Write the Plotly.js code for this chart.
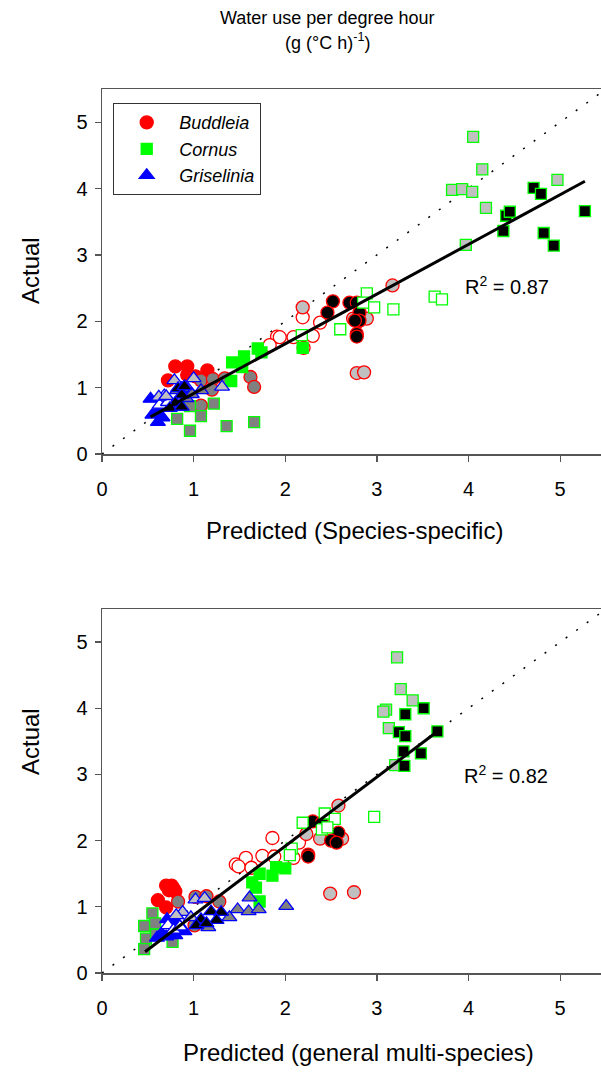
<!DOCTYPE html>
<html>
<head>
<meta charset="utf-8">
<script src="https://cdn.plot.ly/plotly-3.0.1.min.js"></script>
<style>
  html, body { margin: 0; padding: 0; overflow: hidden; background: #fff; }
  #chart { width: 610px; height: 1075px; }
</style>
</head>
<body>
<div id="chart"></div>
<script>
// groups: A solid, B open, C dark grey, D light grey, E black

// top panel, species-specific model
var topBudX = [0.80, 0.93, 1.15, 0.72, 0.93, 1.02,
               1.08, 1.21, 1.34, 1.62, 1.66, 1.20, 1.08,
               2.19, 1.91, 2.09, 2.30, 2.38, 1.83, 1.94, 2.20,
               2.19, 3.17, 2.78, 2.86, 2.74, 2.89, 2.80,
               2.52, 2.70, 2.78, 2.46, 2.81, 2.81, 2.76, 2.78, 2.78];
var topBudY = [1.32, 1.32, 1.26, 1.11, 1.19, 1.17,
               1.11, 1.13, 1.14, 1.16, 1.01, 0.97, 0.73,
               2.06, 1.77, 1.76, 1.78, 1.98, 1.64, 1.76, 1.60,
               2.21, 2.54, 1.22, 1.23, 2.04, 2.04, 2.00,
               2.30, 2.28, 2.28, 2.13, 2.13, 2.01, 2.01, 1.81, 1.77];
var topBudG = ['A','A','A','A','A','A',
               'C','C','C','C','C','C','C',
               'B','B','B','B','B','B','B','B',
               'D','D','D','D','D','D','D',
               'E','E','E','E','E','E','E','E','E'];

var topCorX = [1.42, 1.55, 1.70, 1.74, 1.53, 1.41, 2.19,
               2.89, 2.85, 2.97, 3.18, 2.60, 3.63, 3.71, 2.18,
               4.05, 4.15, 3.82, 3.93, 4.04, 4.19, 4.97, 3.97,
               4.71, 4.79, 4.41, 4.45, 4.38, 4.82, 4.93, 5.27,
               0.82, 0.96, 1.08, 1.22, 1.36, 1.66, 0.96];
var topCorY = [1.38, 1.47, 1.59, 1.53, 1.31, 1.10, 1.60,
               2.42, 2.28, 2.21, 2.18, 1.88, 2.37, 2.33, 1.79,
               4.78, 4.29, 3.98, 3.99, 3.95, 3.71, 4.13, 3.15,
               4.01, 3.92, 3.59, 3.65, 3.36, 3.33, 3.14, 3.66,
               0.53, 0.35, 0.57, 0.76, 0.42, 0.48, 0.72];
var topCorG = ['A','A','A','A','A','A','A',
               'B','B','B','B','B','B','B','B',
               'D','D','D','D','D','D','D','D',
               'E','E','E','E','E','E','E','E',
               'C','C','C','C','C','C','C'];

var topGriX = [0.53, 0.55, 0.61, 0.60, 0.69, 0.66,
               0.63, 0.72, 0.68,
               0.79, 1.00, 0.62, 0.70, 0.94, 1.31, 0.92,
               0.87, 0.83, 0.92, 0.82, 1.08, 0.98,
               0.83, 0.87, 0.80, 0.74, 0.87, 0.90];
var topGriY = [0.83, 0.59, 0.48, 0.63, 0.69, 0.55,
               0.74, 0.78, 0.88,
               1.11, 1.14, 0.86, 0.87, 0.98, 1.01, 0.96,
               0.99, 0.71, 0.84, 0.96, 0.96, 0.90,
               0.99, 0.89, 0.77, 0.69, 0.71, 1.02];
var topGriG = ['A','A','A','A','A','A',
               'B','B','B',
               'D','D','D','D','D','D','D',
               'C','C','C','C','C','C',
               'E','E','E','E','E','E'];

// bottom panel, general multi-species model
var botBudX = [0.70, 0.76, 0.73, 0.80, 0.61, 0.70, 0.78,
               0.83, 1.02, 1.14, 1.28, 1.01,
               1.86, 1.75, 1.88, 2.09, 2.15, 1.46, 1.57, 1.63, 1.49,
               2.58, 2.49, 2.75, 2.23, 2.38, 2.62,
               2.30, 2.25, 2.58, 2.50, 2.56, 2.40, 2.25];
var botBudY = [1.32, 1.32, 1.25, 1.23, 1.10, 0.99, 1.28,
               1.08, 1.15, 1.16, 1.08, 0.72,
               2.04, 1.77, 1.76, 1.74, 1.97, 1.64, 1.74, 1.59, 1.61,
               2.53, 1.20, 1.22, 2.10, 2.03, 2.03,
               2.29, 1.79, 2.12, 2.00, 1.97, 2.27, 1.76];
var botBudG = ['A','A','A','A','A','A','A',
               'C','C','C','C','C',
               'B','B','B','B','B','B','B','B','B',
               'D','D','D','D','D','D',
               'E','E','E','E','E','E','E'];

var botCorX = [1.72, 1.64, 1.68, 1.72, 1.90, 2.00, 1.86,
               2.43, 2.54, 2.19, 2.40, 2.46, 2.07, 2.05, 2.97,
               3.22, 3.26, 3.39, 3.10, 3.07, 3.13, 3.20,
               3.31, 3.51, 3.24, 3.31, 3.29, 3.48, 3.30, 3.66,
               0.55, 0.46, 0.58, 0.48, 0.59, 0.46, 0.77];
var botCorY = [1.50, 1.37, 1.29, 1.08, 1.60, 1.58, 1.47,
               2.41, 2.33, 2.27, 2.17, 2.20, 1.88, 1.78, 2.36,
               4.77, 4.29, 4.12, 3.98, 3.95, 3.70, 3.14,
               3.91, 4.00, 3.64, 3.58, 3.35, 3.32, 3.13, 3.65,
               0.90, 0.71, 0.75, 0.52, 0.58, 0.36, 0.47];
var botCorG = ['A','A','A','A','A','A','A',
               'B','B','B','B','B','B','B','B',
               'D','D','D','D','D','D','D',
               'E','E','E','E','E','E','E','E',
               'C','C','C','C','C','C','C'];

var botGriX = [0.71, 0.81, 0.65, 0.60, 0.70, 0.80, 0.90,
               0.72, 0.78, 0.85,
               0.88, 0.81, 1.02, 1.12, 0.97,
               1.61, 1.48, 1.60, 1.71, 2.01, 1.39, 1.16,
               1.19, 1.30, 1.25, 1.08, 1.03, 1.14];
var botGriY = [0.81, 0.78, 0.60, 0.53, 0.55, 0.57, 0.63,
               0.72, 0.65, 0.70,
               0.92, 0.87, 1.11, 1.13, 0.84,
               1.14, 0.96, 0.93, 0.96, 1.01, 0.84, 0.69,
               0.93, 0.92, 0.80, 0.81, 0.72, 0.75];
var botGriG = ['A','A','A','A','A','A','A',
               'B','B','B',
               'D','D','D','D','D',
               'C','C','C','C','C','C','C',
               'E','E','E','E','E','E'];

// fitted lines and 1:1 line
var oneToOne = [0, 5.5];
var topFitX = [0.53, 5.27], topFitY = [0.56, 4.11];
var botFitX = [0.47, 3.66], botFitY = [0.32, 3.65];

var species = ['Buddleia', 'Cornus', 'Griselinia'];
var tickVals = [0, 1, 2, 3, 4, 5];

var FONT = 'Arial, "Liberation Sans", sans-serif';
var specColor = { Buddleia: '#ff0000', Cornus: '#00ff00', Griselinia: '#0000ff' };
var specSymbol = { Buddleia: 'circle', Cornus: 'square', Griselinia: 'triangle-up' };
var specSize = { Buddleia: 13, Cornus: 11, Griselinia: 13 };

function fillFor(g, sp) {
  if (g == 'A') return specColor[sp];
  if (g == 'B') return '#ffffff';
  if (g == 'C') return '#808080';
  if (g == 'D') return '#c0c0c0';
  return '#000000';
}

function pts(x, y, g, sp, ax, legend) {
  return {
    x: x, y: y, xaxis: 'x' + ax, yaxis: 'y' + ax,
    type: 'scatter', mode: 'markers',
    name: '<i>' + sp + '</i>',
    showlegend: legend,
    marker: {
      symbol: specSymbol[sp], size: specSize[sp],
      color: g.map(function (v) { return fillFor(v, sp); }),
      line: { color: specColor[sp], width: 1.3 }
    }
  };
}

function line(x, y, ax, style) {
  return { x: x, y: y, xaxis: 'x' + ax, yaxis: 'y' + ax, type: 'scatter',
           mode: 'lines', line: style, showlegend: false, hoverinfo: 'skip' };
}

var dotStyle = { color: '#000', width: 1.5, dash: '2px,11px' };
var fitStyle = { color: '#000', width: 3 };

var data = [
  line(oneToOne, oneToOne, '', dotStyle),
  pts(topBudX, topBudY, topBudG, species[0], '', true),
  pts(topCorX, topCorY, topCorG, species[1], '', true),
  pts(topGriX, topGriY, topGriG, species[2], '', true),
  line(topFitX, topFitY, '', fitStyle),
  line(oneToOne, oneToOne, '2', dotStyle),
  pts(botBudX, botBudY, botBudG, species[0], '2', false),
  pts(botCorX, botCorY, botCorG, species[1], '2', false),
  pts(botGriX, botGriY, botGriG, species[2], '2', false),
  line(botFitX, botFitY, '2', fitStyle)
];

function xax(anchor) {
  return {
    range: [0, 5.5], domain: [0, 1], anchor: anchor,
    tickvals: tickVals, ticks: 'outside', ticklen: 6, tickwidth: 1.2, tickcolor: '#555',
    showline: true, linecolor: '#555', linewidth: 1.5, mirror: true,
    showgrid: false, zeroline: false, ticklabelstandoff: 10,
    tickfont: { family: FONT, size: 20, color: '#000' }
  };
}
function yax(anchor, dom) {
  return {
    range: [0, 5.5], domain: dom, anchor: anchor,
    tickvals: tickVals, ticks: 'outside', ticklen: 6, tickwidth: 1.2, tickcolor: '#555',
    showline: true, linecolor: '#555', linewidth: 1.5, mirror: true,
    showgrid: false, zeroline: false, ticklabelstandoff: 3,
    tickfont: { family: FONT, size: 20, color: '#000' }
  };
}

var H = 1075, L = 102, PW = 504;
function px(v) { return (v - L) / PW; }
function py(v) { return (H - v) / H; }

function note(text, x, y, size, angle) {
  return { text: text, xref: 'paper', yref: 'paper', x: px(x), y: py(y),
           xanchor: 'center', yanchor: 'middle', showarrow: false,
           textangle: angle || 0, font: { family: FONT, size: size, color: '#000' } };
}

var layout = {
  width: 610, height: H,
  margin: { l: L, r: 4, t: 0, b: 0 },
  paper_bgcolor: '#fff', plot_bgcolor: '#fff',
  font: { family: FONT },
  xaxis: xax('y'),
  yaxis: yax('x', [py(454), py(89)]),
  xaxis2: xax('y2'),
  yaxis2: yax('x2', [py(973), py(609)]),
  showlegend: true,
  legend: {
    x: px(113), y: py(103), xanchor: 'left', yanchor: 'top',
    bordercolor: '#333', borderwidth: 1.2, bgcolor: '#fff',
    font: { family: FONT, size: 18, color: '#000' },
    itemwidth: 55, tracegroupgap: 0
  },
  annotations: [
    note('Water use per degree hour', 327, 18, 18),
    note('(g (°C h)<sup>-1</sup>)', 327, 42, 18),
    note('Actual', 30, 271, 24, -90),
    note('Predicted (Species-specific)', 354, 530, 24),
    note('Actual', 30, 742, 24, -90),
    note('Predicted (general multi-species)', 358, 1052, 24),
    { text: 'R<sup>2</sup> = 0.87', xref: 'x', yref: 'y', x: 4.42, y: 2.54,
      showarrow: false, font: { family: FONT, size: 20, color: '#000' } },
    { text: 'R<sup>2</sup> = 0.82', xref: 'x2', yref: 'y2', x: 4.41, y: 3.0,
      showarrow: false, font: { family: FONT, size: 20, color: '#000' } }
  ]
};

Plotly.newPlot('chart', data, layout, { displayModeBar: false, staticPlot: true });
</script>
</body>
</html>
